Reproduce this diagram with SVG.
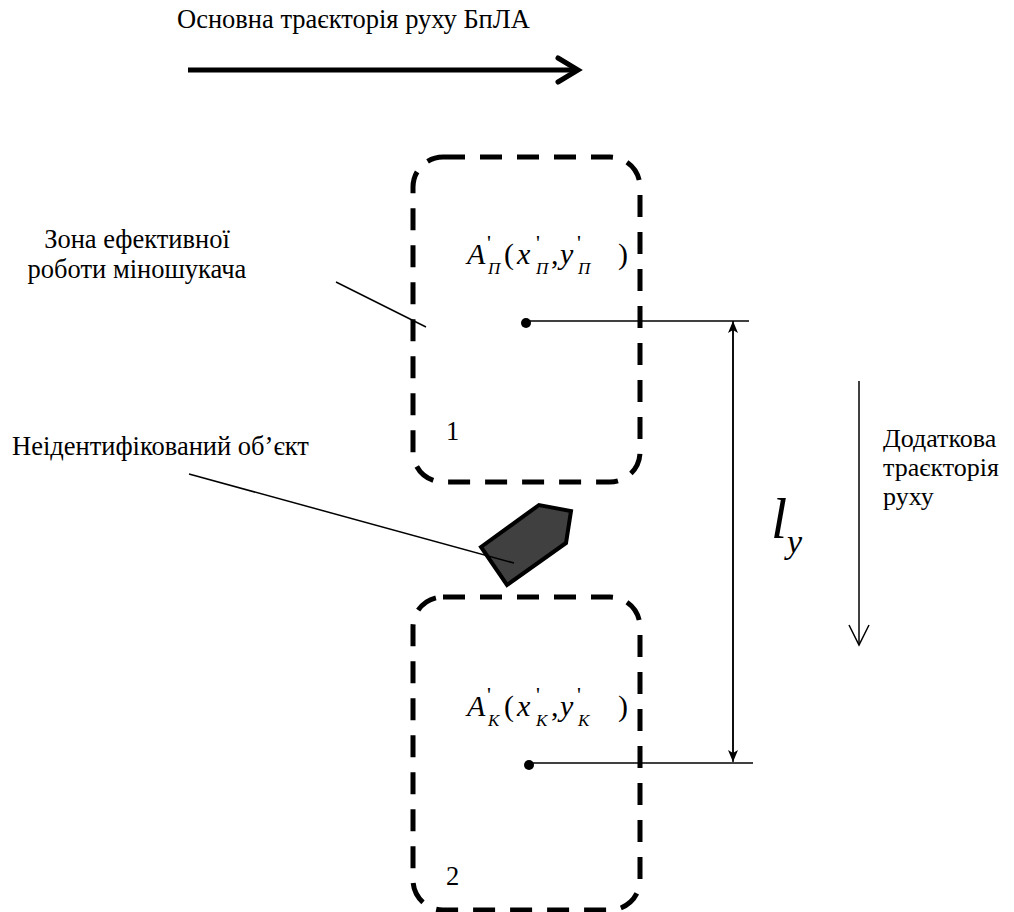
<svg xmlns="http://www.w3.org/2000/svg" width="1014" height="912" viewBox="0 0 1014 912">
<defs>
<style>
.t{font-size:26.5px;fill:#000}
.m{font-style:italic;fill:#000}
.r{font-style:normal}
.zone{fill:none;stroke:#000;stroke-width:5;stroke-dasharray:22 15}
.thin{fill:none;stroke:#000;stroke-width:1.5}
</style>
<marker id="fa" viewBox="0 0 12 10" refX="12" refY="5" markerWidth="12" markerHeight="10" markerUnits="userSpaceOnUse" orient="auto">
<path d="M0,0 L12,5 L0,10 L3,5 Z" fill="#000"/>
</marker>
</defs>
<rect width="1014" height="912" fill="#fff"/>
<g style="font-family:'Liberation Serif','Times New Roman',serif">
<g id="main-trajectory">
<text class="t" x="177" y="28">Основна траєкторія руху БпЛА</text>
<line x1="188" y1="70" x2="578" y2="70" stroke="#000" stroke-width="5"/>
<polyline points="558,58 578,70 558,82" fill="none" stroke="#000" stroke-width="5" stroke-linecap="round" stroke-linejoin="miter"/>
</g>

<g id="zone1">
<rect class="zone" x="413" y="157" width="227" height="325" rx="30" ry="30"/>
<text class="t" x="446" y="440">1</text>
<circle cx="526" cy="323" r="5" fill="#000"/>
<text class="m" font-size="30"><tspan x="467" y="264">A</tspan><tspan class="r" x="487" y="250" font-size="22">'</tspan><tspan x="488" y="274" font-size="17">П</tspan><tspan class="r" x="504" y="264">(</tspan><tspan x="517" y="264">x</tspan><tspan class="r" x="536" y="250" font-size="22">'</tspan><tspan x="536" y="274" font-size="17">П</tspan><tspan class="r" x="551" y="264">,</tspan><tspan x="560" y="264">y</tspan><tspan class="r" x="577" y="250" font-size="22">'</tspan><tspan x="578" y="274" font-size="17">П</tspan><tspan class="r" x="618" y="264">)</tspan></text>
</g>

<g id="zone2">
<rect class="zone" x="413" y="597" width="227" height="313" rx="30" ry="30"/>
<text class="t" x="446" y="885">2</text>
<circle cx="529" cy="765" r="5" fill="#000"/>
<text class="m" font-size="30"><tspan x="467" y="716">A</tspan><tspan class="r" x="487" y="702" font-size="22">'</tspan><tspan x="488" y="726" font-size="17">К</tspan><tspan class="r" x="504" y="716">(</tspan><tspan x="517" y="716">x</tspan><tspan class="r" x="536" y="702" font-size="22">'</tspan><tspan x="536" y="726" font-size="17">К</tspan><tspan class="r" x="551" y="716">,</tspan><tspan x="560" y="716">y</tspan><tspan class="r" x="577" y="702" font-size="22">'</tspan><tspan x="578" y="726" font-size="17">К</tspan><tspan class="r" x="618" y="716">)</tspan></text>
</g>

<g id="object">
<polygon points="481,547 539,505 571,511 566,543 507,585" fill="#404040" stroke="#000" stroke-width="4" stroke-linejoin="miter"/>
</g>

<g id="zone-label">
<text class="t" x="137" y="248" text-anchor="middle">Зона ефективної</text>
<text class="t" x="137" y="278" text-anchor="middle">роботи міношукача</text>
</g>

<g id="object-label">
<text class="t" x="12" y="455">Неідентифікований об’єкт</text>
</g>

<g id="extra-trajectory" font-size="26">
<text x="883" y="447" font-size="26">Додаткова</text>
<text x="883" y="476" font-size="26">траєкторія</text>
<text x="883" y="505" font-size="26">руху</text>
</g>

<g id="dimension-label">
<text class="m" x="771" y="538" font-size="58">l</text>
<text class="m" x="787" y="553" font-size="34">y</text>
</g>
</g>
<g id="connectors">
<line class="thin" x1="336" y1="282" x2="426" y2="327"/>
<line class="thin" x1="189" y1="474" x2="514" y2="563"/>
<line class="thin" x1="526" y1="321" x2="749" y2="321"/>
<line class="thin" x1="529" y1="763" x2="753" y2="763"/>
<line class="thin" x1="733" y1="330" x2="733" y2="762" marker-end="url(#fa)"/>
<line class="thin" x1="733" y1="760" x2="733" y2="321" marker-end="url(#fa)"/>
<line class="thin" x1="859" y1="381" x2="859" y2="645"/>
<polyline class="thin" points="849,625 859,645 869,625"/>
</g>
</svg>
